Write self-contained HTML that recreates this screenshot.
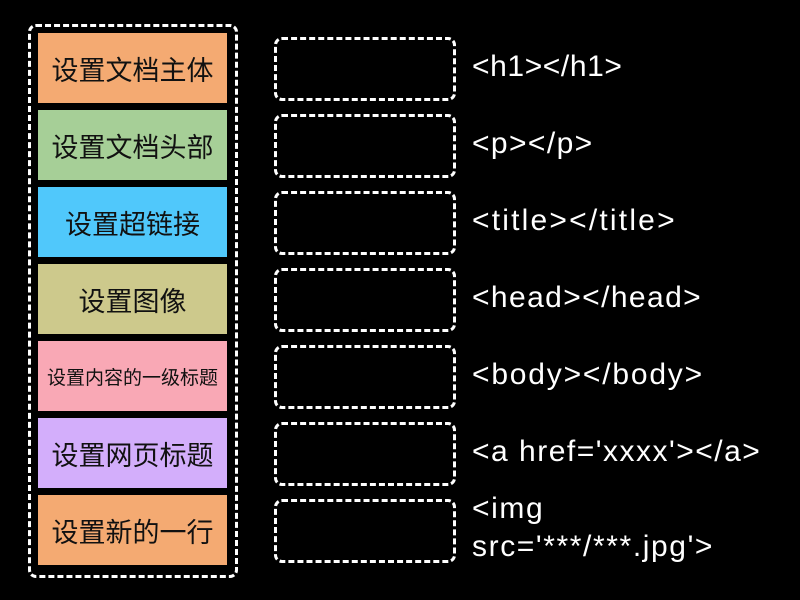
<!DOCTYPE html>
<html><head><meta charset="utf-8"><style>
body{margin:0;width:800px;height:600px;background:#000;position:relative;overflow:hidden;font-family:"Liberation Sans","Noto Sans CJK SC",sans-serif}
.outer{position:absolute;left:28px;top:24px;width:204px;height:548px;border:3px dashed #fff;border-radius:8px}
.c{position:absolute;left:38px;width:189px;height:70px;display:flex;align-items:center;justify-content:center;color:#111;font-size:27px;white-space:nowrap}
.d{position:absolute;left:274px;width:176px;height:58px;border:3px dashed #fff;border-radius:8px}
.t{position:absolute;left:472px;color:#fff;font-size:30px;line-height:38px;letter-spacing:1.4px;white-space:nowrap}
</style></head><body>
<div class="outer"></div>
<div class="c" style="top:33px;background:#f4aa72">设置文档主体</div>
<div class="c" style="top:110px;background:#a6cf97">设置文档头部</div>
<div class="c" style="top:187px;background:#50c8fb">设置超链接</div>
<div class="c" style="top:264px;background:#cdc98c">设置图像</div>
<div class="c" style="top:341px;background:#f9a8b5;font-size:19px">设置内容的一级标题</div>
<div class="c" style="top:418px;background:#d3aefb">设置网页标题</div>
<div class="c" style="top:495px;background:#f4aa72">设置新的一行</div>
<div class="d" style="top:37px"></div>
<div class="d" style="top:114px"></div>
<div class="d" style="top:191px"></div>
<div class="d" style="top:268px"></div>
<div class="d" style="top:345px"></div>
<div class="d" style="top:422px"></div>
<div class="d" style="top:499px"></div>
<div class="t" style="top:48px;letter-spacing:0.6px">&lt;h1&gt;&lt;/h1&gt;</div>
<div class="t" style="top:125px">&lt;p&gt;&lt;/p&gt;</div>
<div class="t" style="top:202px;letter-spacing:2.2px">&lt;title&gt;&lt;/title&gt;</div>
<div class="t" style="top:279px">&lt;head&gt;&lt;/head&gt;</div>
<div class="t" style="top:356px;letter-spacing:1.8px">&lt;body&gt;&lt;/body&gt;</div>
<div class="t" style="top:433px;letter-spacing:1.5px">&lt;a href='xxxx'&gt;&lt;/a&gt;</div>
<div class="t" style="top:490px;letter-spacing:1.6px">&lt;img<br>src='***/***.jpg'&gt;</div>
</body></html>
